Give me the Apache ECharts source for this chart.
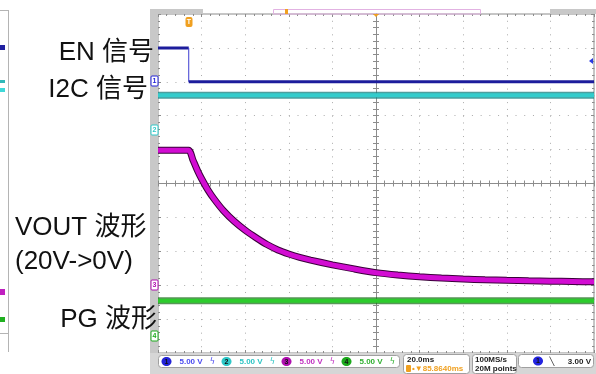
<!DOCTYPE html>
<html lang="zh">
<head>
<meta charset="UTF-8">
<title>EN / I2C / VOUT / PG 波形</title>
<script src="https://cdn.jsdelivr.net/npm/echarts@6/dist/echarts.min.js"></script>
<style>
  html, body { margin: 0; padding: 0; background: #fff; }
  #chart { width: 596px; height: 374px; }
</style>
</head>
<body>
<div id="chart"></div>
<script>
// time axis: ms relative to screen centre, 20 ms/div
// vertical axis: divisions, each channel has its own ground marker
var vPerDiv = [5, 5, 5, 5];
var gndDiv = [3, 1.6, -3, -4.5];

var enEdge = -85.9;
var enLevels = [5, 0];

var i2cTimes = [-100, 100];
var i2cVolts = [5.0, 5.0];

var voutTimes = [-100, -85.9, -84, -82, -80, -77, -74, -70, -65, -60, -55, -50, -45, -40,
                 -35, -30, -20, -10, 0, 10, 20, 30, 40, 50, 60, 70, 80, 90, 100];
var voutVolts = [19.9, 19.9, 18.5, 17.0, 15.7, 14.0, 12.6, 11.0, 9.4, 8.1, 7.0, 6.0, 5.2, 4.6,
                 4.1, 3.7, 3.0, 2.4, 1.85, 1.5, 1.25, 1.05, 0.9, 0.8, 0.72, 0.65, 0.6, 0.55, 0.5];

var pgTimes = [-100, 100];
var pgVolts = [5.2, 5.2];

function pts(times, volts, ch) {
    return times.map(function (t, i) { return [t, volts[i] / vPerDiv[ch] + gndDiv[ch]]; });
}

var chart = echarts.init(document.getElementById('chart'));
var gridCol = '#8c8c8c';
var labelFont = '26px "Liberation Sans", "Noto Sans CJK SC", sans-serif';
var smallFont = 'bold 8px "Liberation Sans", sans-serif';

function centreAxis(pos, split, dash) {
    return {
        gridIndex: 0, type: 'value', position: pos,
        axisLabel: { show: false },
        axisLine: { show: true, onZero: true, lineStyle: { color: gridCol, width: 1 } },
        axisTick: { show: true, inside: true, length: 3, lineStyle: { color: gridCol } },
        minorTick: { show: true, splitNumber: 5, length: 3, lineStyle: { color: gridCol } },
        splitLine: { show: split, lineStyle: { color: '#ababab', width: 1, type: dash } }
    };
}
function frameAxis(pos) {
    return {
        gridIndex: 1, type: 'value', position: pos,
        axisLabel: { show: false },
        axisLine: { show: false, onZero: false },
        axisTick: { show: true, inside: true, length: 3, lineStyle: { color: gridCol } },
        minorTick: { show: true, splitNumber: 5, length: 2, lineStyle: { color: gridCol } },
        splitLine: { show: false }
    };
}

var xa = [centreAxis('bottom', true, [1, 5.78]), centreAxis('top', false), frameAxis('bottom'), frameAxis('top')];
var ya = [centreAxis('left', true, [1, 7.72]), centreAxis('right', false), frameAxis('left'), frameAxis('right')];
xa.forEach(function (a) { a.min = -100; a.max = 100; a.interval = 20; });
ya.forEach(function (a) { a.min = -5; a.max = 5; a.interval = 1; });

function trace(data, color, width, opacity, smooth) {
    return {
        type: 'line', xAxisIndex: 0, yAxisIndex: 0, data: data,
        showSymbol: false, silent: true, smooth: smooth || false,
        lineStyle: { color: color, width: width, opacity: opacity || 1 }
    };
}

var enHi = enLevels[0] / vPerDiv[0] + gndDiv[0];
var enLo = enLevels[1] / vPerDiv[0] + gndDiv[0];

var series = [
    trace([[-100, enHi], [enEdge, enHi]], '#1c1c9c', 3),
    trace([[enEdge, enHi], [enEdge, enLo]], '#3c3cd0', 1),
    trace([[enEdge, enLo], [100, enLo]], '#1c1c9c', 3),
    trace(pts(i2cTimes, i2cVolts, 1), '#127e7e', 7, 0.75),
    trace(pts(i2cTimes, i2cVolts, 1), '#33cccc', 4),
    trace(pts(voutTimes, voutVolts, 2), '#3a003a', 7, 1, 0.2),
    trace(pts(voutTimes, voutVolts, 2), '#d20cd2', 5, 1, 0.2),
    trace(pts(pgTimes, pgVolts, 3), '#0f6a0f', 7, 0.7),
    trace(pts(pgTimes, pgVolts, 3), '#2ccc2c', 4)
];

var chColors = ['#2323d8', '#2ec8c8', '#b010b0', '#1caa1c'];
var chText = ['#4a4af0', '#2cc4c4', '#c030c0', '#30b030'];

function txt(x, y, s, font, fill, align, valign) {
    return { type: 'text', z: 100, style: { x: x, y: y, text: s, font: font, fill: fill,
        textAlign: align || 'left', textVerticalAlign: valign || 'middle' } };
}
function rect(x, y, w, h, fill, stroke, r) {
    return { type: 'rect', z: 50, shape: { x: x, y: y, width: w, height: h, r: r || 0 },
        style: { fill: fill || 'none', stroke: stroke || 'none', lineWidth: 1 } };
}

var g = [];
// left sliver of neighbouring picture
g.push({ type: 'line', z: 50, shape: { x1: 8.5, y1: 10, x2: 8.5, y2: 352 }, style: { stroke: '#b4b4b4' } });
g.push({ type: 'line', z: 50, shape: { x1: 0, y1: 10.5, x2: 9, y2: 10.5 }, style: { stroke: '#b4b4b4' } });
g.push({ type: 'line', z: 50, shape: { x1: 0, y1: 333.5, x2: 9, y2: 333.5 }, style: { stroke: '#b4b4b4' } });
g.push(rect(0, 45, 5, 5, '#2020a0'));
g.push(rect(0, 80, 5, 3, '#30b8b8'));
g.push(rect(0, 88, 5, 4, '#40d8d8'));
g.push(rect(0, 289, 5, 6, '#c020c0'));
g.push(rect(0, 317, 5, 5, '#20b020'));

// scope bezel
g.push(rect(150, 9, 8, 345, '#c8c8c8'));
g.push(rect(150, 9, 53, 5, '#c8c8c8'));
g.push(rect(550, 9, 46, 5, '#c8c8c8'));
g.push(rect(273.5, 9.5, 207, 4.5, null, '#e2b2e2'));
g.push(rect(285, 9, 3, 5, '#f0a020'));
g.push(rect(150, 353, 446, 21, '#d6d6d6'));

// markers
g.push({ type: 'polygon', z: 60, shape: { points: [[373, 14], [379, 14], [376, 17]] }, style: { fill: '#f0a020' } });
g.push(rect(185.5, 17, 7, 10, '#f0a020', null, 2));
g.push(txt(189, 22.5, 'T', 'bold 7px "Liberation Sans"', '#fff', 'center'));
g.push({ type: 'polygon', z: 60, shape: { points: [[589, 61], [593, 58], [593, 64]] }, style: { fill: '#2a3ae0' } });

var gndY = [81, 130, 285, 336];
gndY.forEach(function (y, i) {
    g.push(rect(151, y - 5, 7, 10, '#fff', chColors[i], 1));
    g.push(txt(154.5, y + 0.5, String(i + 1), 'bold 7px "Liberation Sans"', chColors[i], 'center'));
});

// labels
g.push(txt(154, 53, 'EN 信号', labelFont, '#111', 'right'));
g.push(txt(148, 90, 'I2C 信号', labelFont, '#111', 'right'));
g.push(txt(15, 228, 'VOUT 波形', labelFont, '#111', 'left'));
g.push(txt(15, 262, '(20V->0V)', labelFont, '#111', 'left'));
g.push(txt(157, 320, 'PG 波形', labelFont, '#111', 'right'));

// status bar
g.push(rect(158.5, 355.5, 241, 12, '#fff', '#a0a0a0', 3));
var cx = [166.5, 226.5, 286.5, 346.5];
cx.forEach(function (x, i) {
    g.push({ type: 'ellipse', z: 60, shape: { cx: x, cy: 361.5, rx: 5, ry: 4.5 }, style: { fill: chColors[i] } });
    g.push(txt(x, 362, String(i + 1), 'bold 7px "Liberation Sans"', '#111', 'center'));
    g.push(txt(x + 13, 362, '5.00 V', smallFont, chText[i]));
    g.push(txt(x + 46, 362, 'ϟ', '8px "DejaVu Sans"', chText[i], 'center'));
});
g.push(rect(403.5, 354.5, 66, 19, '#fff', '#a0a0a0', 3));
g.push(txt(407, 359.5, '20.0ms', smallFont, '#222'));
g.push(rect(406, 365, 5, 7, '#f0a020', null, 1));
g.push(txt(412, 369, '•▼85.8640ms', smallFont, '#f0a020'));
g.push(rect(472.5, 354.5, 44, 19, '#fff', '#a0a0a0', 3));
g.push(txt(475, 359.5, '100MS/s', smallFont, '#222'));
g.push(txt(475, 369, '20M points', smallFont, '#222'));
g.push(rect(518.5, 354.5, 75, 13, '#fff', '#a0a0a0', 3));
g.push({ type: 'ellipse', z: 60, shape: { cx: 538, cy: 361, rx: 5, ry: 4.5 }, style: { fill: '#2323e0' } });
g.push(txt(538, 361.5, '1', 'bold 7px "Liberation Sans"', '#111', 'center'));
g.push(txt(552, 361.5, '╲', 'bold 8px "DejaVu Sans"', '#222', 'center'));
g.push(txt(591, 361.5, '3.00 V', smallFont, '#222', 'right'));

ya[0].splitLine = { show: true, lineStyle: { color: '#ababab', width: 1, type: [1, 7.72] } };
ya[1].splitLine = { show: false };

chart.setOption({
    animation: false,
    backgroundColor: '#fff',
    grid: [
        { left: 158, top: 14, width: 436, height: 339, show: true, borderColor: gridCol, borderWidth: 1, backgroundColor: '#fff' },
        { left: 158, top: 14, width: 436, height: 339 }
    ],
    xAxis: xa,
    yAxis: ya,
    series: series,
    graphic: g
});
</script>
</body>
</html>
